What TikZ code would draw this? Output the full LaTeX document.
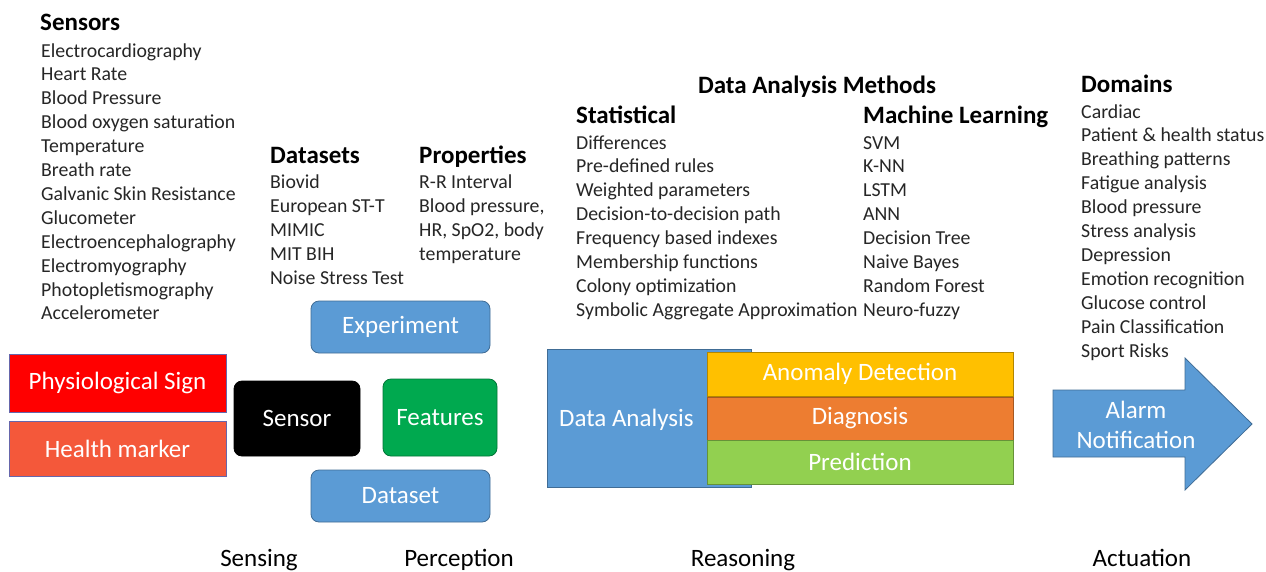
\documentclass[tikz,border=0pt]{standalone}
\usepackage{fontspec}
\setmainfont{Carlito}
\begin{document}
\begin{tikzpicture}[x=1pt,y=-1pt,
  item/.style={anchor=base west,inner sep=0pt,font=\fontsize{19.8}{22}\selectfont,text=black!85},
  head/.style={anchor=base west,inner sep=0pt,font=\fontsize{25}{28}\selectfont\bfseries},
  box/.style={draw=#1!70!black,fill=#1,line width=0.8pt,text=white,font=\fontsize{25}{28}\selectfont,inner sep=0pt},
  rbox/.style={box=#1,rounded corners=8pt},
  phase/.style={anchor=base,inner sep=0pt,font=\fontsize{25}{28}\selectfont}]
\definecolor{cblue}{HTML}{5B9BD5}
\definecolor{cred}{HTML}{FF0000}
\definecolor{ctom}{HTML}{F4583A}
\definecolor{cgreen}{HTML}{00A94F}
\definecolor{cyel}{HTML}{FFC000}
\definecolor{corg}{HTML}{ED7D31}
\definecolor{clime}{HTML}{92D050}
\useasboundingbox[fill=white] (0,0) rectangle (1266,571);

% Sensors
\node[head] (hsens) at (40,30) {Sensors};
\foreach \t [count=\i] in {Electrocardiography,Heart Rate,Blood Pressure,Blood oxygen saturation,Temperature,Breath rate,Galvanic Skin Resistance,Glucometer,Electroencephalography,Electromyography,Photopletismography,Accelerometer}
  \node[item] (s\i) at (41,{57+23.9*(\i-1)}) {\t};

% Datasets
\node[head] (hdata) at (270,163) {Datasets};
\foreach \t [count=\i] in {Biovid,European ST-T,MIMIC,MIT BIH,Noise Stress Test}
  \node[item] (d\i) at (270,{188+24*(\i-1)}) {\t};

% Properties
\node[head] (hprop) at (419,163) {Properties};
\foreach \t [count=\i] in {R-R Interval,{Blood pressure,},{HR, SpO2, body},temperature}
  \node[item] (p\i) at (419,{188+24*(\i-1)}) {\t};

% Data analysis methods
\node[head,anchor=base] (hdam) at (817,93) {Data Analysis Methods};
\node[head] (hstat) at (576,123) {Statistical};
\foreach \t [count=\i] in {Differences,Pre-defined rules,Weighted parameters,Decision-to-decision path,Frequency based indexes,Membership functions,Colony optimization,Symbolic Aggregate Approximation}
  \node[item] (st\i) at (576,{149+23.9*(\i-1)}) {\t};
\node[head] (hml) at (863,123) {Machine Learning};
\foreach \t [count=\i] in {SVM,K-NN,LSTM,ANN,Decision Tree,Naive Bayes,Random Forest,Neuro-fuzzy}
  \node[item] (ml\i) at (863,{149+23.9*(\i-1)}) {\t};

% Domains
\node[head] (hdom) at (1081,92) {Domains};
\foreach \t [count=\i] in {Cardiac,Patient \& health status,Breathing patterns,Fatigue analysis,Blood pressure,Stress analysis,Depression,Emotion recognition,Glucose control,Pain Classification,Sport Risks}
  \node[item] (dm\i) at (1081,{118+23.9*(\i-1)}) {\t};

% Sensing boxes
\node[box=cred,draw=black!55!blue!60,minimum width=217pt,minimum height=58pt] (phys) at (117.5,383) {Physiological Sign};
\node[box=ctom,draw=black!55!blue!60,minimum width=217pt,minimum height=55pt] (hm) at (117.5,448.5) {Health marker};

% Perception boxes
\node[rbox=black,draw=black,minimum width=126pt,minimum height=75pt] (sensor) at (297,418.5) {Sensor};
\node[rbox=cgreen,minimum width=114pt,minimum height=77pt] (feat) at (440,417.5) {Features};
\node[rbox=cblue,minimum width=179pt,minimum height=52pt] (exp) at (400.5,327) {Experiment};
\node[rbox=cblue,minimum width=179pt,minimum height=52pt] (dset) at (400.5,496) {Dataset};

% Reasoning
\node[box=cblue,minimum width=204pt,minimum height=138pt] (da) at (649,418) {};
\node[anchor=west,inner sep=0pt,text=white,font=\fontsize{25}{28}\selectfont] (datext) at (559,420) {Data Analysis};
\node[box=cyel,minimum width=306pt,minimum height=44pt] (anom) at (860,374) {Anomaly Detection};
\node[box=corg,minimum width=306pt,minimum height=43pt] (diag) at (860,418.5) {Diagnosis};
\node[box=clime,minimum width=306pt,minimum height=44pt] (pred) at (860,462) {Prediction};

% Actuation arrow
\draw[draw=cblue!70!black,fill=cblue,line width=0.8pt]
  (1053,390) -- (1185,390) -- (1185,358) -- (1252,424) -- (1185,490) -- (1185,457) -- (1053,457) -- cycle;
\node[text=white,font=\fontsize{25}{30}\selectfont,align=center,inner sep=0pt] (alarm) at (1136,425) {Alarm\\Notification};

% Phase labels
\node[phase] (l1) at (259,566) {Sensing};
\node[phase] (l2) at (459,566) {Perception};
\node[phase] (l3) at (743,566) {Reasoning};
\node[phase] (l4) at (1142,566) {Actuation};
\end{tikzpicture}
\end{document}
